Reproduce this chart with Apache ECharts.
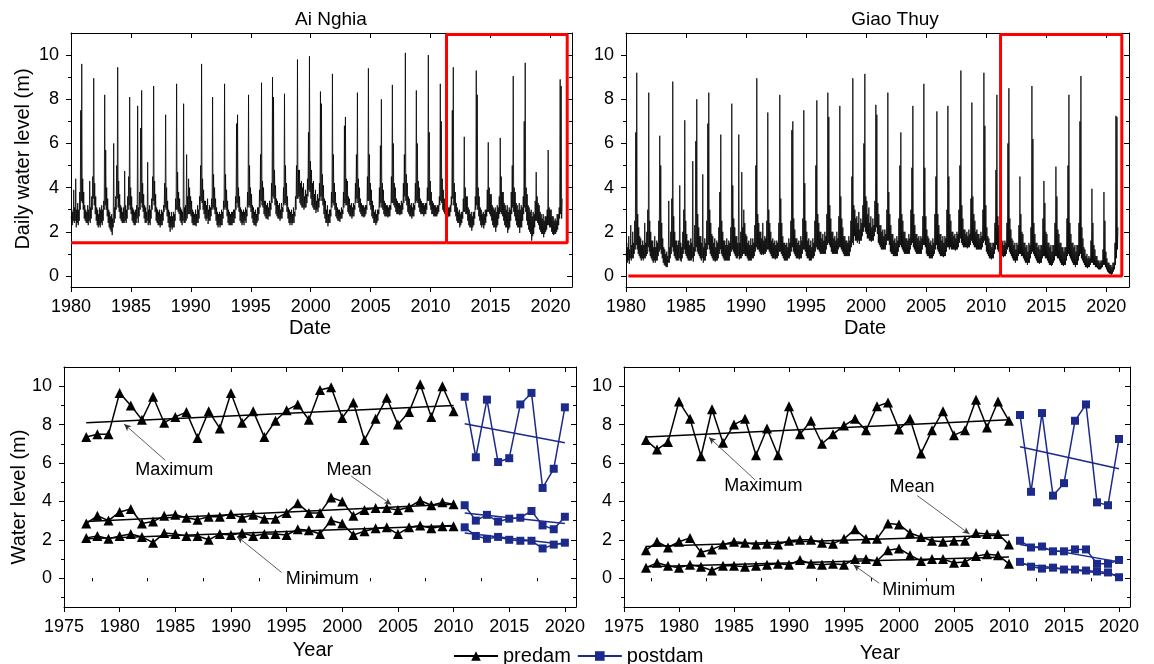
<!DOCTYPE html>
<html><head><meta charset="utf-8">
<script src="https://cdn.jsdelivr.net/npm/echarts@6/dist/echarts.min.js"></script>
<style>html,body{margin:0;padding:0;background:#fff}#c{width:1154px;height:664px}</style>
</head><body><div id="c"></div>
<script>
const FONT = "'Liberation Sans', Arial, sans-serif";
const POST = '#1c2a8c';

// ---------- tick labels ----------
const dateTicks = [1980, 1985, 1990, 1995, 2000, 2005, 2010, 2015, 2020];
const yearTicks = [1975, 1980, 1985, 1990, 1995, 2000, 2005, 2010, 2015, 2020];
const yearMinorTicks = [1977.5, 1982.5, 1987.5, 1992.5, 1997.5, 2002.5, 2007.5, 2012.5, 2017.5];
const levelTicks = [0, 2, 4, 6, 8, 10];
const levelMinorTop = [1, 3, 5, 7, 9];
const levelMinorBottom = [-1, 1, 3, 5, 7, 9];

// ---------- daily water level: monthly high / low readings (Jan..Dec), 1980..2020 ----------
const dailyStartYear = 1980;
const aiNghiaHigh = [
 [3.0,2.9,3.9,3.1,4.4,3.0,3.3,3.0,3.8,7.5,9.6,4.4],
 [3.8,3.2,3.0,2.9,3.2,3.0,4.3,3.1,3.6,4.5,8.95,4.2],
 [3.6,3.1,3.0,2.8,3.1,3.0,3.2,3.0,3.4,8.2,5.7,4.0],
 [3.5,3.0,2.9,2.7,2.8,2.6,6.0,3.1,3.6,5.0,9.45,4.3],
 [3.7,3.2,3.1,2.9,3.1,4.75,3.2,3.0,3.6,4.5,8.1,4.0],
 [3.6,3.1,3.0,2.9,3.0,3.2,7.7,3.1,3.8,6.7,8.4,4.2],
 [3.7,3.2,3.1,2.9,5.15,3.0,3.2,3.0,3.5,4.5,8.6,4.3],
 [3.7,3.1,3.0,2.9,3.0,2.8,3.0,2.9,3.2,4.2,7.3,4.0],
 [3.4,3.0,2.9,2.7,2.9,2.7,2.9,2.8,3.5,8.7,4.7,3.8],
 [3.5,3.1,3.0,2.9,7.8,3.1,3.2,5.5,3.6,4.4,4.0,3.6],
 [3.4,3.0,2.9,2.8,3.0,2.8,3.2,3.0,3.6,5.0,9.6,4.4],
 [3.9,3.4,3.4,3.2,3.5,3.0,3.2,3.1,3.5,8.1,4.6,4.0],
 [3.5,3.1,2.9,2.8,2.9,2.8,3.0,2.9,3.4,8.7,4.6,3.9],
 [3.4,3.0,2.9,2.8,2.9,2.9,3.0,3.0,3.6,6.9,7.3,4.0],
 [3.6,3.1,3.0,2.9,3.0,2.9,3.1,3.0,3.8,8.2,5.0,4.0],
 [3.7,3.2,3.1,2.9,3.0,2.8,3.1,3.1,3.9,5.5,8.75,4.3],
 [4.0,3.4,3.4,3.2,3.3,3.1,3.4,3.3,4.2,9.0,8.1,4.8],
 [4.1,3.5,3.4,3.2,3.3,3.0,3.3,3.1,4.0,8.25,5.0,4.2],
 [3.6,3.1,3.0,2.9,3.0,2.8,3.1,2.9,3.6,5.0,9.8,4.8],
 [4.8,4.2,4.3,4.0,4.2,3.6,3.9,3.7,4.4,6.5,9.95,5.2],
 [4.8,4.2,4.3,3.7,3.9,3.4,3.7,3.5,4.2,8.35,7.8,4.6],
 [4.1,3.5,3.4,3.0,3.2,2.8,3.0,3.0,3.8,9.15,5.5,4.2],
 [3.8,3.3,3.1,3.0,3.0,2.9,3.1,3.0,3.8,6.8,7.2,4.4],
 [4.3,3.6,3.5,3.2,3.3,3.1,3.3,3.2,4.2,5.5,8.3,4.4],
 [4.0,3.5,3.3,3.2,3.2,3.1,3.2,3.2,4.5,9.4,5.5,4.2],
 [3.9,3.4,3.2,2.9,3.0,2.8,3.0,3.0,4.0,5.9,8.0,4.2],
 [3.9,3.4,3.3,3.2,3.2,3.1,3.2,3.2,4.5,8.65,6.0,4.2],
 [4.0,3.5,3.4,3.3,3.3,3.2,3.4,3.3,4.2,5.5,10.1,4.6],
 [4.2,3.6,3.5,3.2,3.3,3.1,3.3,3.2,4.2,8.4,6.0,4.3],
 [4.0,3.5,3.4,3.3,3.3,3.2,3.3,3.3,4.0,10.0,6.5,4.3],
 [3.8,3.4,3.3,3.2,3.2,3.1,3.2,3.2,3.6,8.7,7.0,4.4],
 [3.9,3.5,3.3,3.2,3.2,3.1,3.1,3.2,3.6,7.5,9.45,4.2],
 [3.8,3.3,3.1,2.9,3.0,2.8,2.9,2.9,3.5,6.3,4.0,3.6],
 [3.6,3.1,3.0,2.8,2.9,2.7,2.9,2.9,3.6,9.3,8.2,4.0],
 [3.6,3.1,3.0,2.8,2.9,2.8,3.0,3.0,3.9,6.05,4.0,3.7],
 [3.7,3.2,3.1,3.0,3.1,2.9,3.2,3.1,3.6,6.25,4.5,3.8],
 [3.8,3.3,3.2,3.0,3.2,2.9,3.1,3.0,3.8,5.0,9.05,4.0],
 [3.8,3.3,3.2,3.0,3.3,3.0,3.2,3.1,3.6,7.0,9.65,4.0],
 [3.7,3.2,3.1,2.9,3.0,2.7,2.9,2.8,3.4,4.7,3.6,3.3],
 [3.2,2.9,2.8,2.6,2.8,2.5,2.7,2.7,3.0,5.7,3.1,3.0],
 [3.0,2.7,2.7,2.5,2.6,2.5,2.8,2.8,3.1,8.9,8.6,3.5]
];
const aiNghiaLow = [
 [2.6,2.3,2.5,2.4,2.5,2.2,2.4,2.3,2.5,3.0,3.4,3.3],
 [3.0,2.6,2.5,2.4,2.4,2.3,2.5,2.4,2.6,3.0,3.5,3.2],
 [2.8,2.5,2.3,2.2,2.3,2.2,2.4,2.3,2.5,3.0,3.2,3.0],
 [2.7,2.4,2.2,2.1,2.0,1.85,2.2,2.4,2.6,3.0,3.5,3.1],
 [2.9,2.6,2.5,2.4,2.4,2.4,2.5,2.4,2.6,3.0,3.2,3.0],
 [2.8,2.5,2.4,2.3,2.3,2.4,2.6,2.4,2.7,3.0,3.3,3.1],
 [2.9,2.6,2.4,2.4,2.5,2.3,2.4,2.3,2.6,3.0,3.4,3.2],
 [2.9,2.5,2.4,2.3,2.3,2.2,2.3,2.3,2.5,2.9,3.1,3.0],
 [2.7,2.4,2.2,2.0,2.2,2.1,2.2,2.2,2.5,3.0,3.0,2.9],
 [2.8,2.5,2.4,2.3,2.5,2.4,2.4,2.5,2.6,2.8,2.8,2.8],
 [2.7,2.4,2.3,2.3,2.3,2.25,2.4,2.4,2.6,3.0,3.4,3.3],
 [3.0,2.8,2.6,2.5,2.6,2.35,2.5,2.5,2.7,3.0,3.1,3.0],
 [2.8,2.5,2.3,2.2,2.3,2.2,2.3,2.3,2.6,3.0,3.1,3.0],
 [2.7,2.4,2.3,2.3,2.3,2.3,2.4,2.4,2.6,3.0,3.3,3.1],
 [2.9,2.5,2.4,2.3,2.4,2.3,2.5,2.4,2.7,3.1,3.2,3.1],
 [2.9,2.6,2.4,2.3,2.3,2.25,2.4,2.5,2.8,3.1,3.4,3.2],
 [3.1,2.8,2.7,2.6,2.6,2.55,2.7,2.7,3.0,3.3,3.6,3.5],
 [3.2,2.8,2.7,2.6,2.6,2.5,2.6,2.6,2.9,3.2,3.3,3.2],
 [2.9,2.6,2.4,2.3,2.4,2.3,2.4,2.4,2.7,3.0,3.5,3.5],
 [3.6,3.3,3.2,3.1,3.1,3.0,3.1,3.1,3.3,3.6,3.9,3.8],
 [3.5,3.2,3.1,3.0,3.0,2.85,3.0,2.9,3.1,3.4,3.6,3.4],
 [3.2,2.8,2.6,2.4,2.4,2.25,2.4,2.4,2.7,3.1,3.3,3.2],
 [3.0,2.7,2.6,2.5,2.5,2.45,2.6,2.6,2.8,3.1,3.3,3.2],
 [3.2,2.9,2.8,2.7,2.7,2.6,2.7,2.7,3.0,3.3,3.5,3.3],
 [3.1,2.9,2.8,2.7,2.7,2.65,2.7,2.8,3.0,3.4,3.4,3.2],
 [3.0,2.7,2.6,2.4,2.4,2.3,2.4,2.5,2.8,3.1,3.3,3.1],
 [3.0,2.8,2.7,2.7,2.7,2.65,2.7,2.7,3.0,3.3,3.3,3.2],
 [3.1,2.9,2.8,2.8,2.8,2.75,2.8,2.8,3.0,3.3,3.6,3.4],
 [3.2,2.9,2.8,2.7,2.7,2.6,2.7,2.7,3.0,3.3,3.4,3.3],
 [3.1,2.9,2.8,2.8,2.8,2.7,2.8,2.8,3.0,3.4,3.4,3.2],
 [3.0,2.8,2.8,2.7,2.7,2.7,2.7,2.8,2.9,3.2,3.4,3.3],
 [3.0,2.9,2.8,2.7,2.7,2.65,2.7,2.7,2.9,3.2,3.5,3.2],
 [2.9,2.7,2.5,2.4,2.4,2.2,2.3,2.4,2.6,2.9,2.9,2.8],
 [2.8,2.5,2.3,2.2,2.2,2.05,2.2,2.3,2.6,3.0,3.2,3.0],
 [2.7,2.5,2.3,2.2,2.3,2.15,2.3,2.4,2.7,2.9,2.9,2.8],
 [2.7,2.5,2.3,2.2,2.2,2.0,2.2,2.3,2.6,2.8,2.9,2.8],
 [2.7,2.5,2.3,2.2,2.2,1.95,2.1,2.2,2.5,2.8,3.1,2.9],
 [2.7,2.5,2.3,2.2,2.2,1.95,2.2,2.2,2.5,2.8,3.1,2.9],
 [2.5,2.3,2.1,2.0,1.9,1.6,1.8,1.9,2.2,2.5,2.5,2.4],
 [2.3,2.1,2.0,1.9,1.9,1.75,1.9,2.0,2.1,2.3,2.3,2.2],
 [2.2,2.0,1.9,1.85,1.9,1.9,2.0,2.1,2.3,2.6,2.8,2.6]
];
const giaoThuyHigh = [
 [1.5,1.3,1.8,1.2,2.3,1.4,2.0,1.5,2.5,6.5,9.2,2.8],
 [2.2,1.8,1.7,1.4,1.6,1.4,2.4,1.5,2.0,3.0,8.3,2.5],
 [2.0,1.6,1.6,1.3,1.8,1.3,1.6,1.5,2.5,6.35,5.0,2.4],
 [1.7,1.3,1.2,1.0,1.1,0.9,3.4,1.3,2.0,3.5,8.8,2.7],
 [2.0,1.6,1.6,1.4,1.6,4.1,1.5,1.3,2.0,3.0,7.05,2.5],
 [1.9,1.6,1.6,1.4,1.7,1.5,5.2,1.3,2.3,6.1,8.0,2.8],
 [2.2,1.8,1.8,1.5,4.6,1.3,1.7,1.5,2.5,6.9,8.3,3.0],
 [2.4,1.9,1.8,1.5,1.7,1.3,1.6,1.5,2.2,3.8,6.4,2.5],
 [2.0,1.6,1.6,1.4,1.7,1.4,1.6,1.5,2.2,7.8,4.1,2.6],
 [2.2,1.8,1.8,1.5,6.4,1.5,2.0,4.7,2.2,3.0,2.4,1.9],
 [1.8,1.5,1.6,1.4,1.7,1.4,1.7,1.5,2.3,5.0,8.95,2.8],
 [2.4,2.0,2.0,1.7,2.4,1.6,1.8,1.7,2.5,7.4,3.0,2.4],
 [2.0,1.6,1.7,1.5,1.6,1.4,1.6,1.5,2.4,8.2,3.5,2.4],
 [1.8,1.5,1.5,1.4,1.5,1.3,1.7,1.5,2.5,6.6,7.0,2.6],
 [2.1,1.7,1.7,1.5,1.6,1.4,1.8,1.6,2.6,7.5,4.2,2.5],
 [2.0,1.6,1.7,1.4,1.6,1.3,1.7,1.5,2.5,5.0,7.95,2.8],
 [2.4,2.0,2.0,1.7,1.9,1.6,2.0,1.8,2.8,8.3,7.2,3.2],
 [2.6,2.0,2.0,1.7,1.8,1.6,2.0,1.7,2.7,7.7,3.6,2.6],
 [2.2,1.8,1.8,1.6,1.6,1.5,1.8,1.6,2.5,4.5,8.95,3.2],
 [3.0,2.6,2.7,2.4,2.9,2.1,2.6,2.4,3.2,6.0,9.15,3.6],
 [3.4,2.8,3.1,2.4,2.7,2.2,2.6,2.3,3.4,7.75,7.3,3.3],
 [2.8,2.3,2.3,2.0,2.1,1.8,2.1,1.9,3.0,8.3,3.8,2.8],
 [2.3,1.9,1.9,1.6,1.7,1.5,1.8,1.6,2.6,5.0,6.5,2.8],
 [2.5,2.0,2.0,1.7,1.7,1.6,1.9,1.7,3.0,4.9,7.7,2.8],
 [2.3,1.9,1.9,1.7,1.8,1.6,1.8,1.7,2.7,8.7,4.9,2.7],
 [2.1,1.8,1.7,1.5,1.6,1.4,1.7,1.5,2.8,4.5,7.45,2.8],
 [2.3,1.9,1.9,1.6,1.8,1.5,1.8,1.7,3.0,7.7,4.5,2.8],
 [2.5,2.0,2.0,1.8,1.9,1.7,2.0,1.9,3.0,5.0,9.3,3.2],
 [2.6,2.1,2.1,1.9,2.0,1.8,2.1,1.9,3.5,7.85,3.6,2.8],
 [2.5,2.0,2.1,1.9,1.9,1.7,2.0,1.8,3.0,9.2,6.8,3.2],
 [2.2,1.8,1.7,1.5,1.5,1.3,1.5,1.5,2.4,4.8,8.2,2.7],
 [2.3,1.8,1.7,1.5,1.6,1.4,1.6,1.5,2.4,6.0,8.5,2.6],
 [2.1,1.7,1.6,1.4,1.5,1.2,1.5,1.4,2.3,4.5,2.8,2.0],
 [1.9,1.5,1.5,1.3,1.4,1.1,1.5,1.4,2.2,8.6,6.2,2.4],
 [1.9,1.5,1.5,1.3,1.4,1.2,1.4,1.4,2.6,4.3,3.3,2.0],
 [1.9,1.5,1.5,1.3,1.4,1.1,1.4,1.4,2.4,4.95,3.6,2.1],
 [1.9,1.5,1.5,1.3,1.3,1.1,1.3,1.3,2.6,5.0,8.2,2.4],
 [1.9,1.5,1.5,1.3,1.4,1.1,1.4,1.4,2.4,7.0,9.05,2.2],
 [1.7,1.3,1.2,0.9,1.0,0.8,0.9,0.8,1.6,3.95,2.4,1.4],
 [1.2,0.9,0.9,0.7,0.7,0.6,0.7,0.7,1.2,3.8,2.5,1.1],
 [0.8,0.6,0.6,0.5,0.5,0.4,0.6,0.6,1.5,7.25,7.2,2.2]
];
const giaoThuyLow = [
 [0.9,0.6,0.7,0.55,0.8,0.7,0.8,0.8,1.0,1.2,1.4,1.2],
 [1.0,0.9,0.8,0.7,0.8,0.7,0.8,0.8,0.9,1.0,1.3,1.1],
 [0.9,0.8,0.7,0.6,0.7,0.6,0.7,0.7,0.9,1.1,1.2,1.0],
 [0.8,0.6,0.5,0.45,0.4,0.4,0.6,0.6,0.8,1.0,1.3,1.1],
 [0.9,0.8,0.7,0.7,0.7,0.8,0.7,0.65,0.8,1.0,1.2,1.0],
 [0.9,0.8,0.7,0.7,0.7,0.7,0.8,0.65,0.9,1.1,1.3,1.1],
 [1.0,0.9,0.8,0.7,0.8,0.6,0.7,0.7,0.9,1.2,1.4,1.2],
 [1.0,0.9,0.8,0.7,0.7,0.65,0.7,0.7,0.8,1.0,1.2,1.0],
 [0.9,0.8,0.7,0.7,0.7,0.7,0.7,0.7,0.9,1.1,1.2,1.1],
 [1.0,0.9,0.8,0.8,0.9,0.75,0.8,0.8,0.9,1.0,1.0,0.9],
 [0.9,0.8,0.7,0.7,0.7,0.7,0.8,0.8,0.9,1.1,1.3,1.2],
 [1.2,1.1,1.0,0.95,1.0,0.95,1.0,1.0,1.1,1.2,1.2,1.1],
 [1.0,0.9,0.8,0.8,0.8,0.75,0.8,0.8,0.9,1.1,1.1,1.0],
 [0.9,0.8,0.7,0.7,0.7,0.7,0.8,0.8,0.9,1.1,1.3,1.1],
 [1.0,0.9,0.8,0.8,0.8,0.75,0.8,0.8,1.0,1.2,1.2,1.1],
 [0.9,0.8,0.8,0.7,0.7,0.7,0.8,0.8,0.9,1.1,1.3,1.2],
 [1.2,1.1,1.0,1.0,1.0,1.0,1.0,1.0,1.2,1.4,1.5,1.4],
 [1.3,1.1,1.0,1.0,1.0,1.0,1.0,1.0,1.2,1.3,1.3,1.2],
 [1.1,1.0,0.9,0.9,0.9,0.9,0.9,0.9,1.1,1.3,1.5,1.4],
 [1.8,1.6,1.6,1.5,1.6,1.45,1.6,1.6,1.8,2.0,2.2,2.0],
 [1.9,1.7,1.7,1.6,1.6,1.55,1.6,1.6,1.8,2.0,2.2,1.9],
 [1.5,1.4,1.3,1.2,1.2,1.2,1.2,1.2,1.4,1.6,1.6,1.4],
 [1.1,1.0,1.0,0.9,0.9,0.9,0.9,0.9,1.1,1.3,1.4,1.3],
 [1.2,1.1,1.0,1.0,1.0,1.0,1.0,1.0,1.2,1.4,1.5,1.3],
 [1.2,1.1,1.0,1.0,1.0,1.0,1.0,1.0,1.2,1.4,1.4,1.3],
 [1.0,0.9,0.9,0.8,0.8,0.8,0.8,0.9,1.0,1.2,1.4,1.2],
 [1.1,1.0,0.9,0.9,0.9,0.85,0.9,0.9,1.1,1.3,1.3,1.2],
 [1.3,1.2,1.2,1.2,1.2,1.15,1.2,1.2,1.3,1.5,1.7,1.5],
 [1.4,1.3,1.3,1.3,1.3,1.25,1.3,1.3,1.4,1.6,1.5,1.4],
 [1.3,1.3,1.2,1.2,1.2,1.2,1.2,1.2,1.3,1.5,1.6,1.4],
 [1.1,1.0,0.9,0.8,0.8,0.75,0.8,0.8,1.0,1.2,1.4,1.2],
 [1.1,1.0,0.9,0.9,0.9,0.85,0.9,0.9,1.0,1.2,1.3,1.1],
 [1.0,0.9,0.8,0.7,0.7,0.6,0.7,0.7,0.9,1.0,1.0,0.9],
 [0.9,0.8,0.7,0.6,0.6,0.5,0.6,0.6,0.8,1.0,1.1,1.0],
 [0.9,0.8,0.7,0.6,0.6,0.55,0.6,0.6,0.8,0.9,0.9,0.8],
 [0.8,0.7,0.6,0.5,0.5,0.45,0.5,0.6,0.7,0.9,0.9,0.8],
 [0.8,0.7,0.6,0.5,0.5,0.45,0.5,0.5,0.7,0.9,1.0,0.9],
 [0.8,0.7,0.6,0.5,0.5,0.4,0.5,0.5,0.7,0.9,1.0,0.8],
 [0.7,0.6,0.5,0.4,0.4,0.35,0.4,0.4,0.5,0.6,0.6,0.5],
 [0.5,0.4,0.4,0.35,0.3,0.3,0.3,0.35,0.4,0.5,0.5,0.4],
 [0.3,0.2,0.15,0.1,0.1,0.05,0.1,0.2,0.3,0.5,0.8,1.2]
];
// red highlight frames (date, level)
const aiRedLine = [[1980, 1.5], [2011.33, 1.5]];
const aiRedBox = [[2011.33, 1.5], [2011.33, 10.93], [2021.4, 10.93], [2021.4, 1.5], [2011.33, 1.5]];
const gtRedLine = [[1980.2, 0], [2011.2, 0]];
const gtRedBox = [[2011.2, 0], [2011.2, 10.93], [2021.3, 10.93], [2021.3, 0], [2011.2, 0]];

// ---------- annual statistics ----------
const preYears = [1977,1978,1979,1980,1981,1982,1983,1984,1985,1986,1987,1988,1989,1990,1991,1992,1993,1994,1995,1996,1997,1998,1999,2000,2001,2002,2003,2004,2005,2006,2007,2008,2009,2010];
const postYears = [2011,2012,2013,2014,2015,2016,2017,2018,2019,2020];

const aiMaxPre = [7.35,7.5,7.5,9.65,9.0,8.25,9.45,8.1,8.4,8.65,7.3,8.7,7.8,9.65,8.1,8.7,7.35,8.2,8.75,9.05,8.25,9.8,9.95,8.35,9.15,7.2,8.3,9.4,8.0,8.65,10.1,8.4,10.0,8.7];
const aiMaxPost = [9.45,6.3,9.3,6.05,6.25,9.05,9.65,4.7,5.7,8.9];
const aiMeanPre = [2.85,3.25,3.0,3.45,3.6,2.85,2.95,3.25,3.3,3.15,3.05,3.2,3.2,3.35,3.15,3.3,3.1,3.1,3.4,3.9,3.4,3.4,4.2,4.0,3.25,3.55,3.65,3.65,3.55,3.7,4.05,3.8,3.95,3.85];
const aiMeanPost = [3.8,3.0,3.3,2.95,3.1,3.15,3.5,2.75,2.55,3.2];
const aiMinPre = [2.1,2.2,2.05,2.2,2.3,2.15,1.85,2.35,2.3,2.2,2.2,2.0,2.3,2.25,2.35,2.2,2.3,2.3,2.25,2.55,2.5,2.3,3.0,2.85,2.25,2.45,2.6,2.65,2.3,2.65,2.75,2.6,2.7,2.7];
const aiMinPost = [2.65,2.2,2.05,2.15,2.0,1.95,1.95,1.55,1.75,1.85];

const gtMaxPre = [7.2,6.7,7.1,9.2,8.3,6.35,8.8,7.05,8.0,8.3,6.4,7.8,6.4,8.95,7.5,8.2,7.0,7.5,7.95,8.3,7.7,8.95,9.15,7.75,8.3,6.5,7.7,8.7,7.45,7.7,9.3,7.85,9.2,8.2];
const gtMaxPost = [8.5,4.5,8.6,4.3,4.95,8.2,9.05,3.95,3.8,7.25];
const gtMeanPre = [1.45,1.9,1.6,1.9,2.1,1.35,1.5,1.75,1.9,1.85,1.75,1.8,1.75,1.95,2.0,2.0,1.85,1.8,2.05,2.55,2.05,2.05,2.85,2.8,2.35,2.15,1.95,1.9,1.95,1.95,2.35,2.3,2.3,1.75];
const gtMeanPost = [1.95,1.6,1.65,1.4,1.4,1.5,1.5,0.75,0.75,0.95];
const gtMinPre = [0.55,0.8,0.65,0.55,0.7,0.6,0.4,0.65,0.65,0.6,0.65,0.7,0.75,0.7,0.95,0.75,0.7,0.75,0.7,1.0,1.0,0.9,1.45,1.55,1.2,0.9,1.0,1.0,0.8,0.85,1.15,1.25,1.2,0.75];
const gtMinPost = [0.85,0.6,0.5,0.55,0.45,0.45,0.4,0.35,0.3,0.05];

// fitted trend lines as drawn: [start, end] in (year, level)
const aiMaxPreTrend = [[1977, 8.1], [2010, 9.0]];
const aiMaxPostTrend = [[2011, 8.05], [2020, 7.05]];
const aiMeanPreTrend = [[1977, 2.95], [2010, 3.85]];
const aiMeanPostTrend = [[2011, 3.4], [2020, 2.85]];
const aiMinPreTrend = [[1977, 2.05], [2010, 2.75]];
const aiMinPostTrend = [[2011, 2.35], [2020, 1.75]];
const gtMaxPreTrend = [[1977, 7.35], [2010, 8.25]];
const gtMaxPostTrend = [[2011, 6.85], [2020, 5.7]];
const gtMeanPreTrend = [[1977, 1.65], [2010, 2.25]];
const gtMeanPostTrend = [[2011, 1.75], [2020, 0.85]];
const gtMinPreTrend = [[1977, 0.6], [2010, 1.1]];
const gtMinPostTrend = [[2011, 0.75], [2020, 0.15]];

// annotations: [text, textX, textY, arrowTailX, arrowTailY, arrowHeadX, arrowHeadY]
const aiNotes = [
  ['Maximum', 1984.9, 5.62, 1984.1, 6.14, 1980.4, 8.03],
  ['Mean', 2000.6, 5.62, 2000.8, 5.32, 2004.4, 3.83],
  ['Minimum', 1998.2, -0.05, 1994.55, 0.3, 1990.56, 2.17]
];
const gtNotes = [
  ['Maximum', 1987.67, 4.82, 1986.93, 5.11, 1982.72, 7.34],
  ['Mean', 2001.19, 4.73, 2001.66, 4.3, 2006.41, 2.3],
  ['Minimum', 2001.8, -0.61, 1998.2, -0.26, 1995.86, 0.7]
];

// ---------- helpers ----------
function toDaily(high, low) {
  const out = [];
  high.forEach((row, i) => row.forEach((h, m) => {
    out.push([dailyStartYear + i + (m + 0.25) / 12, low[i][m]]);
    out.push([dailyStartYear + i + (m + 0.75) / 12, h]);
  }));
  return out;
}
function pair(xs, ys) { return xs.map((x, i) => [x, ys[i]]); }

const black = '#000';
const fmt = v => String(v);
function xAxes(g, min, max, major, minor) {
  const common = { gridIndex: g, type: 'value', min, max, splitLine: { show: false } };
  const line = { show: true, onZero: false, lineStyle: { color: black, width: 1 } };
  const list = [
    Object.assign({}, common, { position: 'bottom', axisLine: line,
      axisTick: { show: true, length: 5, customValues: major, lineStyle: { color: black } },
      axisLabel: { show: true, customValues: major, formatter: fmt, margin: 11, fontSize: 18, color: black, fontFamily: FONT } }),
    Object.assign({}, common, { position: 'top', axisLine: line,
      axisTick: { show: true, inside: true, length: 5, customValues: major, lineStyle: { color: black } },
      axisLabel: { show: false } })
  ];
  if (minor) {
    list.push(Object.assign({}, common, { position: 'bottom', axisLine: { show: false },
      axisTick: { show: true, length: 3, customValues: minor, lineStyle: { color: black } }, axisLabel: { show: false } }));
    list.push(Object.assign({}, common, { position: 'top', axisLine: { show: false },
      axisTick: { show: true, inside: true, length: 3, customValues: minor, lineStyle: { color: black } }, axisLabel: { show: false } }));
  }
  return list;
}
function yAxes(g, min, max, major, minor) {
  const common = { gridIndex: g, type: 'value', min, max, splitLine: { show: false } };
  const line = { show: true, onZero: false, lineStyle: { color: black, width: 1 } };
  return [
    Object.assign({}, common, { position: 'left', axisLine: line,
      axisTick: { show: true, length: 5, customValues: major, lineStyle: { color: black } },
      axisLabel: { show: true, customValues: major, formatter: fmt, margin: 12, fontSize: 18, color: black, fontFamily: FONT } }),
    Object.assign({}, common, { position: 'left', axisLine: { show: false },
      axisTick: { show: true, length: 3, customValues: minor, lineStyle: { color: black } }, axisLabel: { show: false } }),
    Object.assign({}, common, { position: 'right', axisLine: line,
      axisTick: { show: true, inside: true, length: 5, customValues: major, lineStyle: { color: black } }, axisLabel: { show: false } }),
    Object.assign({}, common, { position: 'right', axisLine: { show: false },
      axisTick: { show: true, inside: true, length: 3, customValues: minor, lineStyle: { color: black } }, axisLabel: { show: false } })
  ];
}

const xAxis = [], yAxis = [], xIdx = [], yIdx = [];
function addGrid(g, xmin, xmax, xmaj, xmin2, ymin, ymax, ymaj, ymin2) {
  xIdx[g] = xAxis.length; xAxes(g, xmin, xmax, xmaj, xmin2).forEach(a => xAxis.push(a));
  yIdx[g] = yAxis.length; yAxes(g, ymin, ymax, ymaj, ymin2).forEach(a => yAxis.push(a));
}
addGrid(0, 1980, 2021.8, dateTicks, null, -0.5, 11, levelTicks, levelMinorTop);
addGrid(1, 1980, 2021.9, dateTicks, null, -0.5, 11, levelTicks, levelMinorTop);
addGrid(2, 1975, 2021, yearTicks, yearMinorTicks, -1.5, 11, levelTicks, levelMinorBottom);
addGrid(3, 1975, 2021, yearTicks, yearMinorTicks, -1.5, 11, levelTicks, levelMinorBottom);

const series = [];
function dailySeries(g, high, low, redLine, redBox) {
  series.push({ type: 'line', xAxisIndex: xIdx[g], yAxisIndex: yIdx[g], data: toDaily(high, low), symbol: 'none',
    lineStyle: { color: '#000', width: 0.8 }, z: 2, silent: true });
  [redLine, redBox].forEach(d => series.push({ type: 'line', xAxisIndex: xIdx[g], yAxisIndex: yIdx[g], data: d,
    symbol: 'none', lineStyle: { color: '#ff0000', width: 3 }, z: 3, silent: true, clip: false }));
}
dailySeries(0, aiNghiaHigh, aiNghiaLow, aiRedLine, aiRedBox);
dailySeries(1, giaoThuyHigh, giaoThuyLow, gtRedLine, gtRedBox);

function statSeries(g, pre, post, trendsPre, trendsPost, notes) {
  pre.forEach((vals, k) => series.push({ name: 'predam', type: 'line', xAxisIndex: xIdx[g], yAxisIndex: yIdx[g],
    data: pair(preYears, vals), symbol: 'triangle', symbolSize: 10, showAllSymbol: true,
    lineStyle: { color: '#000', width: 1.5 }, itemStyle: { color: '#000' }, z: 3,
    markLine: k === 0 ? {
      silent: true, symbol: ['none', 'arrow'], symbolSize: [5, 7], label: { show: false },
      lineStyle: { color: '#333', width: 0.8, type: 'solid' },
      data: notes.map(n => [{ coord: [n[3], n[4]] }, { coord: [n[5], n[6]] }])
    } : undefined }));
  post.forEach(vals => series.push({ name: 'postdam', type: 'line', xAxisIndex: xIdx[g], yAxisIndex: yIdx[g],
    data: pair(postYears, vals), symbol: 'rect', symbolSize: 8, showAllSymbol: true,
    lineStyle: { color: POST, width: 1.5 }, itemStyle: { color: POST }, z: 3 }));
  trendsPre.forEach(t => series.push({ name: 'trend', type: 'line', xAxisIndex: xIdx[g], yAxisIndex: yIdx[g],
    data: t, symbol: 'none', lineStyle: { color: '#000', width: 1.5 }, z: 2 }));
  trendsPost.forEach(t => series.push({ name: 'trend', type: 'line', xAxisIndex: xIdx[g], yAxisIndex: yIdx[g],
    data: t, symbol: 'none', lineStyle: { color: POST, width: 1.5 }, z: 2 }));
}
statSeries(2, [aiMaxPre, aiMeanPre, aiMinPre], [aiMaxPost, aiMeanPost, aiMinPost],
  [aiMaxPreTrend, aiMeanPreTrend, aiMinPreTrend], [aiMaxPostTrend, aiMeanPostTrend, aiMinPostTrend], aiNotes);
statSeries(3, [gtMaxPre, gtMeanPre, gtMinPre], [gtMaxPost, gtMeanPost, gtMinPost],
  [gtMaxPreTrend, gtMeanPreTrend, gtMinPreTrend], [gtMaxPostTrend, gtMeanPostTrend, gtMinPostTrend], gtNotes);

function txt(x, y, s, size, rot) {
  return { type: 'text', x, y, rotation: rot || 0, silent: true,
    style: { text: s, fontSize: size, fontFamily: FONT, fill: '#000', textAlign: 'center', textVerticalAlign: 'middle' } };
}

const chart = echarts.init(document.getElementById('c'), null, { renderer: 'canvas' });
chart.setOption({
  animation: false,
  backgroundColor: '#fff',
  grid: [
    { left: 71, top: 33, width: 501, height: 254 },
    { left: 626, top: 33, width: 503, height: 254 },
    { left: 64, top: 367, width: 512, height: 240 },
    { left: 624, top: 367, width: 506, height: 240 }
  ],
  xAxis, yAxis, series,
  legend: {
    data: ['predam', 'postdam'], left: 448, top: 641, itemWidth: 44, itemHeight: 12, itemGap: 6,
    selectedMode: false, textStyle: { fontSize: 20, fontFamily: FONT, color: '#000' }
  }
});

// all free text; annotation labels placed through the axes' own scales
const texts = [
  txt(331, 20, 'Ai Nghia', 19), txt(895, 20, 'Giao Thuy', 19),
  txt(23, 159, 'Daily water level (m)', 20, Math.PI / 2),
  txt(310, 328, 'Date', 20), txt(865, 328, 'Date', 20),
  txt(19, 497, 'Water level (m)', 20, Math.PI / 2),
  txt(313, 650, 'Year', 20), txt(880, 653, 'Year', 20)
];
[[2, aiNotes], [3, gtNotes]].forEach(([g, notes]) => notes.forEach(n => {
  const p = chart.convertToPixel({ xAxisIndex: xIdx[g], yAxisIndex: yIdx[g] }, [n[1], n[2]]);
  texts.push(txt(p[0], p[1], n[0], 18));
}));
chart.setOption({ graphic: texts });
</script></body></html>
